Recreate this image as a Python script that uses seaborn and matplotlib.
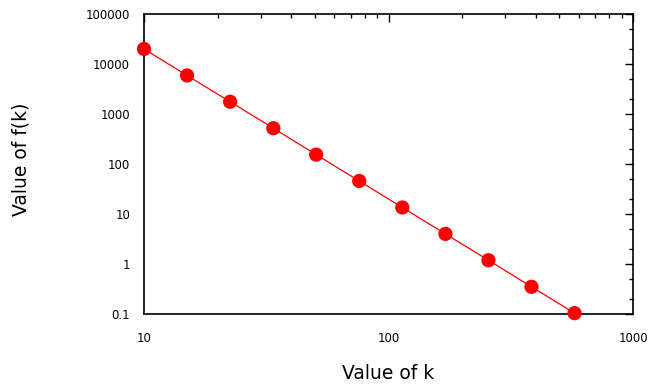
import matplotlib
matplotlib.use('Agg')
import matplotlib.pyplot as plt
import matplotlib.ticker as mticker
import seaborn as sns
import pandas as pd

# valores
k_vals = [10, 15, 22.5, 33.8, 50.6, 75.9, 113.9, 170.9, 256.3, 384.4, 576.7]
fk_vals = [20000, 5900, 1760, 520, 154, 45.7, 13.5, 4.0, 1.19, 0.35, 0.104]

df = pd.DataFrame({'k': k_vals, 'fk': fk_vals})

sns.set_style('white')
plt.rcParams['font.family'] = ['DejaVu Sans']

fig = plt.figure(figsize=(6.53, 3.84), dpi=100)
ax = fig.add_axes([0.2205, 0.1823, 0.7489, 0.7812])

sns.lineplot(data=df, x='k', y='fk', color='red', linewidth=0.9, ax=ax)
sns.scatterplot(data=df, x='k', y='fk', color='red', s=105, edgecolor='none',
                ax=ax, zorder=5, clip_on=False)

ax.set_xscale('log')
ax.set_yscale('log')
ax.set_xlim(10, 1000)
ax.set_ylim(0.1, 100000)

ax.xaxis.set_major_locator(mticker.LogLocator(base=10, numticks=10))
ax.xaxis.set_minor_locator(mticker.LogLocator(base=10, subs=range(2, 10), numticks=10))
ax.yaxis.set_major_locator(mticker.LogLocator(base=10, numticks=10))
ax.yaxis.set_minor_locator(mticker.LogLocator(base=10, subs=[2, 5], numticks=10))
ax.xaxis.set_major_formatter(mticker.FuncFormatter(lambda v, p: f'{v:g}'))
ax.yaxis.set_major_formatter(mticker.FuncFormatter(lambda v, p: f'{v:g}'))
ax.xaxis.set_minor_formatter(mticker.NullFormatter())
ax.yaxis.set_minor_formatter(mticker.NullFormatter())

ax.tick_params(which='both', direction='in', top=True, right=True, colors='black', labelsize=8.5)
ax.tick_params(which='major', length=6, width=1)
ax.tick_params(which='minor', length=3, width=1)
ax.tick_params(axis='x', which='major', pad=13)
ax.tick_params(axis='y', which='major', pad=10)
for s in ax.spines.values():
    s.set_color('black')
    s.set_linewidth(1.2)

ax.set_xlabel('Value of k', fontsize=13.5, labelpad=14, color='black')
ax.set_ylabel('Value of f(k)', fontsize=13.5, color='black')
ax.yaxis.set_label_coords(-0.232, 0.515)

fig.savefig('out.png', dpi=100)
